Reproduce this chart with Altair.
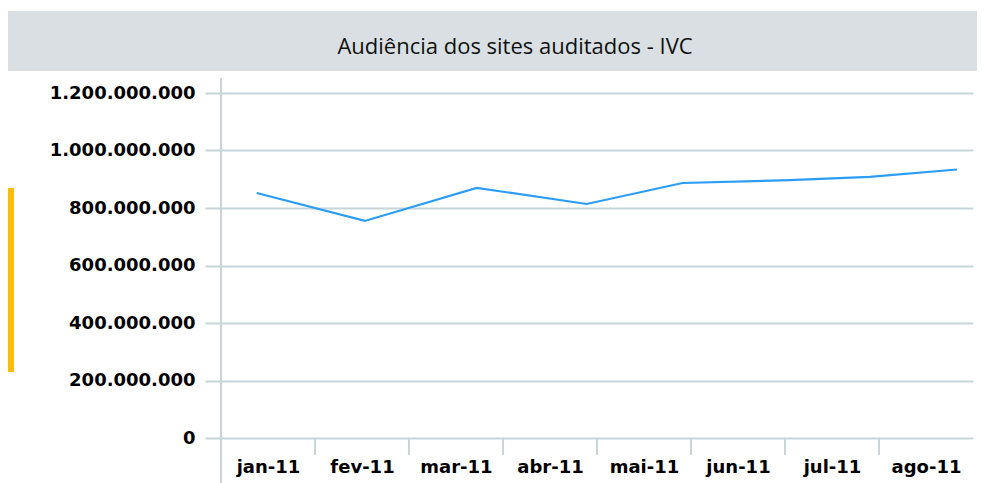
import altair as alt
import pandas as pd

# ---- data ----
title_text = "Audiência dos sites auditados - IVC"
months = ["jan-11", "fev-11", "mar-11", "abr-11", "mai-11", "jun-11", "jul-11", "ago-11"]
# line vertices: position along the month axis (month index units) and audience value
line_pos = [0.38, 1.53, 2.72, 3.89, 4.91, 6.05, 6.90, 7.83]
line_val = [852e6, 755e6, 870e6, 814e6, 887e6, 897e6, 908e6, 934e6]
y_ticks = [0, 200000000, 400000000, 600000000, 800000000, 1000000000, 1200000000]
y_labels = ["0", "200.000.000", "400.000.000", "600.000.000", "800.000.000",
            "1.000.000.000", "1.200.000.000"]
x_boundaries = [1, 2, 3, 4, 5, 6, 7]

GRID = "#c8d5d8"
W, H = 752, 345

line_df = pd.DataFrame({"x": line_pos, "v": line_val})
tick_df = pd.DataFrame({"x": x_boundaries})

y_label_expr = " : ".join(
    f"datum.value == {v} ? '{l}'" for v, l in zip(y_ticks, y_labels)
) + " : ''"
month_arr = "[" + ",".join(f"'{m}'" for m in months) + "]"
x_label_expr = f"{month_arr}[floor(datum.value)]"

xscale = alt.Scale(domain=[0, len(months)], nice=False, zero=False)

line = alt.Chart(line_df).mark_line(color="#2b9df7", strokeWidth=2.2).encode(
    x=alt.X("x:Q", scale=xscale, title=None,
            axis=alt.Axis(values=[i + 0.5 for i in range(len(months))],
                          labelExpr=x_label_expr, ticks=False, tickSize=0,
                          domain=False, grid=False, labelPadding=20,
                          labelFont="DejaVu Sans", labelFontSize=18,
                          labelFontWeight="bold", labelColor="#000000",
                          labelAngle=0)),
    y=alt.Y("v:Q", scale=alt.Scale(domain=[0, 1200000000], nice=False), title=None,
            axis=alt.Axis(values=y_ticks, labelExpr=y_label_expr,
                          tickSize=16, tickColor=GRID, tickWidth=2,
                          grid=True, gridColor=GRID, gridWidth=2,
                          domain=False, labelPadding=10,
                          labelFont="DejaVu Sans", labelFontSize=18,
                          labelFontWeight="bold", labelColor="#000000")),
)

xticks = alt.Chart(tick_df).mark_rule(color=GRID, strokeWidth=2).encode(
    x=alt.X("x:Q", scale=xscale, title=None),
    y=alt.value(H),
    y2=alt.value(H + 17),
)

single = alt.Data(values=[{"t": title_text}])

yline = alt.Chart(single).mark_rule(color=GRID, strokeWidth=2).encode(
    x=alt.value(0), y=alt.value(-15), y2=alt.value(H + 45)
)

title_bar = alt.Chart(single).mark_rect(color="#d9dfe2").encode(
    x=alt.value(-213), x2=alt.value(W + 4), y=alt.value(-82), y2=alt.value(-22)
)

title = alt.Chart(single).mark_text(
    font="Open Sans", fontSize=22, color="#111111", align="center", baseline="middle"
).encode(
    x=alt.value(294), y=alt.value(-46), text="t:N"
)

orange = alt.Chart(single).mark_rect(color="#fbbc0d").encode(
    x=alt.value(-213), x2=alt.value(-207), y=alt.value(95), y2=alt.value(279)
)

chart = alt.layer(title_bar, title, orange, line, xticks, yline).properties(
    width=W, height=H,
    padding={"left": 213, "top": 85, "right": 4, "bottom": 45},
    autosize=alt.AutoSizeParams(type="none"),
    background="#ffffff",
).configure_view(stroke=None)

chart.save("out.html", embed_options={"renderer": "svg", "actions": False})
